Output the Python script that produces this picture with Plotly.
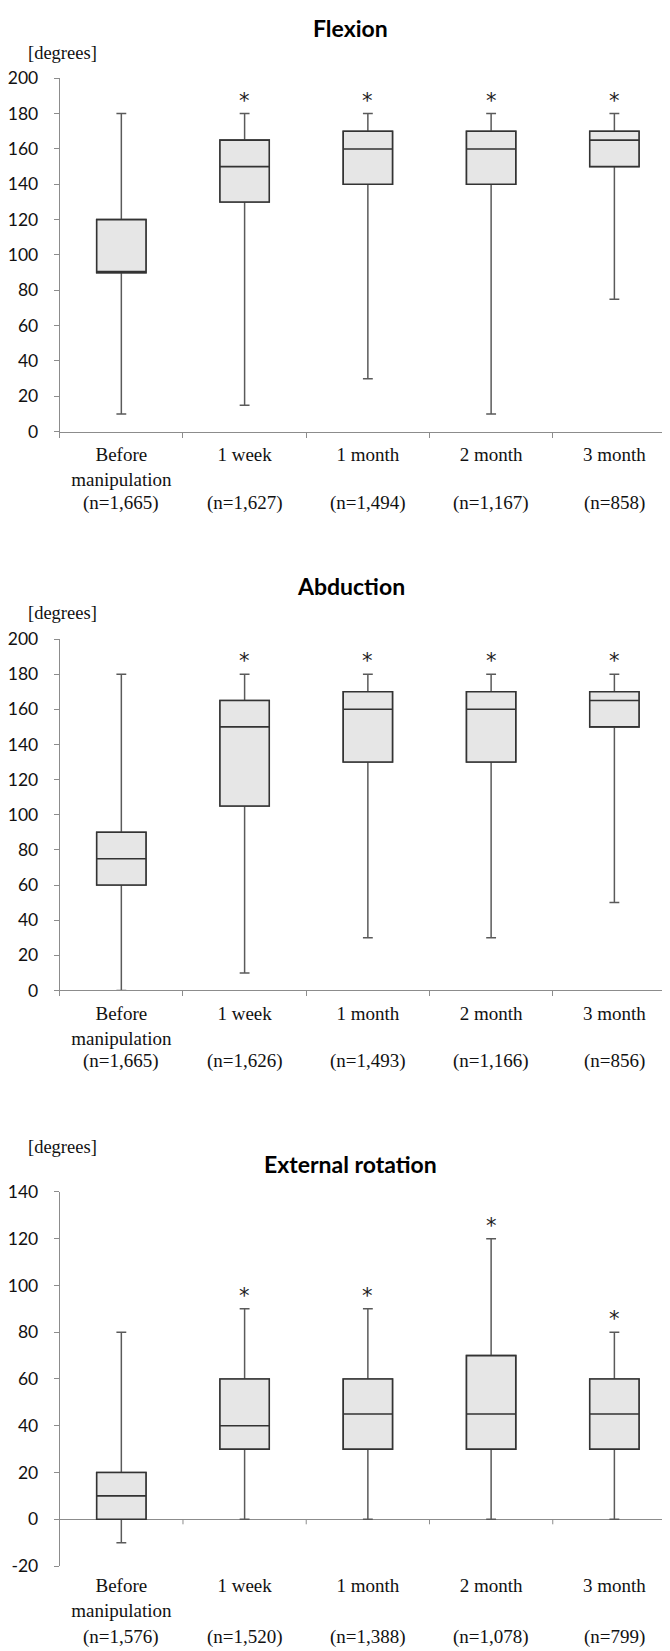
import plotly.graph_objects as go

W, H = 670, 1651

categories = ["Before<br>manipulation", "1 week", "1 month", "2 month", "3 month"]
significant = [False, True, True, True, True]

flex_n = ["(n=1,665)", "(n=1,627)", "(n=1,494)", "(n=1,167)", "(n=858)"]
flex_min = [10, 15, 30, 10, 75]
flex_q1 = [90, 130, 140, 140, 150]
flex_med = [90, 150, 160, 160, 165]
flex_q3 = [120, 165, 170, 170, 170]
flex_max = [180, 180, 180, 180, 180]

abd_n = ["(n=1,665)", "(n=1,626)", "(n=1,493)", "(n=1,166)", "(n=856)"]
abd_min = [0, 10, 30, 30, 50]
abd_q1 = [60, 105, 130, 130, 150]
abd_med = [75, 150, 160, 160, 165]
abd_q3 = [90, 165, 170, 170, 170]
abd_max = [180, 180, 180, 180, 180]

er_n = ["(n=1,576)", "(n=1,520)", "(n=1,388)", "(n=1,078)", "(n=799)"]
er_min = [-10, 0, 0, 0, 0]
er_q1 = [0, 30, 30, 30, 30]
er_med = [10, 40, 45, 45, 45]
er_q3 = [20, 60, 60, 70, 60]
er_max = [80, 90, 90, 120, 80]

ticks_0_200 = [0, 20, 40, 60, 80, 100, 120, 140, 160, 180, 200]
ticks_m20_140 = [-20, 0, 20, 40, 60, 80, 100, 120, 140]

panels = [
    dict(title="Flexion", n=flex_n, lo=flex_min, q1=flex_q1, med=flex_med, q3=flex_q3, hi=flex_max,
         yr=[0, 200], tv=ticks_0_200, top=60, bot=418, title_shift=50, deg_shift=25),
    dict(title="Abduction", n=abd_n, lo=abd_min, q1=abd_q1, med=abd_med, q3=abd_q3, hi=abd_max,
         yr=[0, 200], tv=ticks_0_200, top=628, bot=984, title_shift=53, deg_shift=26),
    dict(title="External rotation", n=er_n, lo=er_min, q1=er_q1, med=er_med, q3=er_q3, hi=er_max,
         yr=[-20, 140], tv=ticks_m20_140, top=1188, bot=1567, title_shift=28, deg_shift=45),
]

AXIS_GREY = "#8c8c8c"
BOX_LINE = "#333333"
WHISK = "#5a5a5a"
FILL = "#e6e6e6"
SANS = "Lato, 'Open Sans', sans-serif"
SERIF = "'Liberation Serif', 'Times New Roman', serif"

fig = go.Figure()
x0p, x1p = 48 / W, 668 / W

for i, p in enumerate(panels, start=1):
    xa = "x" if i == 1 else f"x{i}"
    ya = "y" if i == 1 else f"y{i}"
    # whiskers (grey)
    fig.add_trace(go.Box(
        x=categories, q1=p["q1"], median=p["med"], q3=p["q3"],
        lowerfence=p["lo"], upperfence=p["hi"],
        xaxis=xa, yaxis=ya, width=0.4, whiskerwidth=0.2,
        fillcolor=FILL, line=dict(color=WHISK, width=1.5),
        boxpoints=False, hoverinfo="skip", showlegend=False,
    ))
    # box outline (dark)
    fig.add_trace(go.Box(
        x=categories, q1=p["q1"], median=p["med"], q3=p["q3"],
        lowerfence=p["q1"], upperfence=p["q3"],
        xaxis=xa, yaxis=ya, width=0.4, whiskerwidth=0.0,
        fillcolor=FILL, line=dict(color=BOX_LINE, width=1.6),
        boxpoints=False, hoverinfo="skip", showlegend=False,
    ))

    ydom = [1 - p["bot"] / H, 1 - p["top"] / H]
    is_er = p["yr"][0] < 0
    xkey = "xaxis" if i == 1 else f"xaxis{i}"
    ykey = "yaxis" if i == 1 else f"yaxis{i}"
    fig.update_layout({
        xkey: dict(
            domain=[x0p, x1p], anchor=ya, type="category",
            categoryorder="array", categoryarray=categories,
            range=[-0.5, 4.5],
            showline=not is_er, linecolor=AXIS_GREY, linewidth=1,
            ticks="outside", tickson="boundaries", ticklen=5,
            tickcolor=("rgba(0,0,0,0)" if is_er else AXIS_GREY),
            showgrid=False, zeroline=False,
            tickfont=dict(family=SERIF, size=19, color="#111"),
            ticklabelstandoff=6, fixedrange=True,
        ),
        ykey: dict(
            domain=ydom, anchor=xa, range=p["yr"],
            tickmode="array", tickvals=p["tv"], ticktext=[str(v) for v in p["tv"]],
            showline=True, linecolor=AXIS_GREY, linewidth=1,
            ticks="outside", ticklen=5, tickcolor=AXIS_GREY,
            showgrid=False,
            zeroline=is_er, zerolinecolor=AXIS_GREY, zerolinewidth=1,
            tickfont=dict(family=SANS, size=17.5, color="#111"),
            ticklabelstandoff=12, fixedrange=True,
        ),
    })

    ydomref = f"{ya} domain"
    # title
    fig.add_annotation(text=f"<b>{p['title']}</b>", xref="paper", yref=ydomref,
                       x=341 / W, y=1, yshift=p["title_shift"], showarrow=False,
                       xanchor="center", yanchor="middle",
                       font=dict(family=SANS, size=23, color="#000"))
    # unit label
    fig.add_annotation(text="[degrees]", xref="paper", yref=ydomref,
                       x=51 / W, y=1, yshift=p["deg_shift"], showarrow=False,
                       xanchor="center", yanchor="middle",
                       font=dict(family=SERIF, size=18.5, color="#111"))
    # n labels
    for c, nt in zip(categories, p["n"]):
        fig.add_annotation(text=nt, xref=xa, yref=ydomref, x=c, y=0,
                           yshift=-71, showarrow=False, xanchor="center", yanchor="middle",
                           font=dict(family=SERIF, size=19, color="#111"))
    # significance asterisks
    for c, hi, s in zip(categories, p["hi"], significant):
        if s:
            fig.add_annotation(text="*", xref=xa, yref=ya, x=c, y=hi,
                               yshift=13, showarrow=False, xanchor="center", yanchor="middle",
                               font=dict(family="'DejaVu Sans', sans-serif", size=21, color="#222"))
    # boundary ticks on zero line for ER panel
    if is_er:
        for k in range(len(categories)):
            fig.add_shape(type="line", xref=xa, yref=ya, x0=k + 0.5, x1=k + 0.5,
                          ysizemode="pixel", yanchor=0, y0=0, y1=-5,
                          line=dict(color=AXIS_GREY, width=1))

fig.update_layout(
    width=W, height=H, margin=dict(l=0, r=0, t=0, b=0),
    paper_bgcolor="white", plot_bgcolor="white",
    boxmode="overlay", showlegend=False,
)

fig.write_html("out.html")
